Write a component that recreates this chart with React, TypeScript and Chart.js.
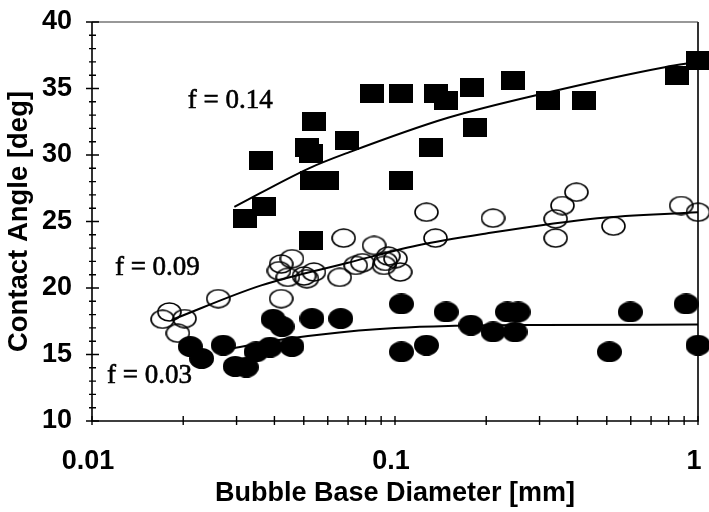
import React, { useEffect, useRef } from 'react';
import { Chart, registerables } from 'chart.js';

Chart.register(...registerables);

// f = 0.14 (filled squares)
const diamF014 = [0.032, 0.037, 0.036, 0.054, 0.0512, 0.0528, 0.0532, 0.0596, 0.0693, 0.0528, 0.0837, 0.105, 0.105, 0.1368, 0.1476, 0.1318, 0.1797, 0.184, 0.245, 0.319, 0.419, 0.853, 1.0];
const angleF014 = [25.2, 26.1, 29.6, 32.5, 30.6, 30.1, 28.1, 28.1, 31.1, 23.6, 34.6, 34.6, 28.1, 34.6, 34.1, 30.6, 35.1, 32.1, 35.6, 34.1, 34.1, 36.0, 37.1];

// f = 0.09 (open circles)
const diamF009 = [0.0171, 0.018, 0.0202, 0.0192, 0.0261, 0.0421, 0.0421, 0.0457, 0.0414, 0.0443, 0.0501, 0.054, 0.0512, 0.0657, 0.0677, 0.0742, 0.078, 0.0853, 0.093, 0.095, 0.1004, 0.104, 0.092, 0.127, 0.136, 0.2106, 0.339, 0.357, 0.397, 0.339, 0.526, 0.88, 1.0];
const angleF009 = [17.65, 18.2, 17.7, 16.6, 19.2, 19.2, 21.8, 22.2, 21.3, 20.8, 20.9, 21.2, 20.7, 20.8, 23.75, 21.7, 21.9, 23.2, 22.0, 22.4, 22.2, 21.2, 21.7, 25.7, 23.75, 25.25, 25.2, 26.2, 27.2, 23.75, 24.65, 26.2, 25.7];

// f = 0.03 (filled circles)
const diamF003 = [0.0211, 0.023, 0.0271, 0.0297, 0.0323, 0.0348, 0.0387, 0.0457, 0.0396, 0.0424, 0.0532, 0.0662, 0.105, 0.105, 0.127, 0.1476, 0.178, 0.2106, 0.235, 0.255, 0.249, 0.51, 0.598, 0.914, 1.0];
const angleF003 = [15.6, 14.7, 15.7, 14.1, 14.05, 15.2, 15.55, 15.6, 17.65, 17.1, 17.7, 17.7, 18.8, 15.2, 15.7, 18.2, 17.2, 16.7, 18.2, 18.2, 16.7, 15.2, 18.2, 18.8, 15.7];

// Fitted trend curves
const fitDiamF014 = [0.0295, 0.052, 0.0704, 0.1495, 0.319, 0.777, 1.0];
const fitAngleF014 = [26.1, 29.0, 30.2, 32.8, 34.7, 36.6, 37.0];
const fitDiamF009 = [0.0183, 0.0362, 0.07, 0.1183, 0.2, 0.4655, 1.0];
const fitAngleF009 = [17.6, 20.2, 21.9, 23.2, 24.1, 25.25, 25.7];
const fitDiamF003 = [0.029, 0.0447, 0.0759, 0.1, 0.15, 0.3, 1.0];
const fitAngleF003 = [15.47, 16.2, 16.8, 17.0, 17.15, 17.22, 17.25];

// Axis ticks
const xMajorTicks = [0.01, 0.1, 1];
const xMinorTicks = [0.02, 0.03, 0.04, 0.05, 0.06, 0.07, 0.08, 0.09, 0.2, 0.3, 0.4, 0.5, 0.6, 0.7, 0.8, 0.9];
const yMajorTicks = [10, 15, 20, 25, 30, 35, 40];
const yMinorTicks = [11, 12, 13, 14, 16, 17, 18, 19, 21, 22, 23, 24, 26, 27, 28, 29, 31, 32, 33, 34, 36, 37, 38, 39];

const seriesLabels = ['f = 0.14', 'f = 0.09', 'f = 0.03'];
// anchor (left, baseline) of each series label in data units
const labelAnchors = [
  { x: 0.0207, y: 33.5 },
  { x: 0.0119, y: 20.96 },
  { x: 0.0112, y: 12.84 },
];

const SANS = '"Liberation Sans", Arial, sans-serif';

const toPoints = (xs: number[], ys: number[]) => xs.map((x, i) => ({ x, y: ys[i] }));

function makeMarker(w: number, h: number, draw: (ctx: CanvasRenderingContext2D, w: number, h: number) => void) {
  const c = document.createElement('canvas');
  c.width = w;
  c.height = h;
  const ctx = c.getContext('2d') as CanvasRenderingContext2D;
  ctx.fillStyle = '#000';
  ctx.strokeStyle = '#000';
  draw(ctx, w, h);
  return c;
}

// keep the plot box exactly where the layout padding puts it
const noScalePadding = (scale: any) => {
  scale.paddingTop = 0;
  scale.paddingBottom = 0;
  scale.paddingLeft = 0;
  scale.paddingRight = 0;
};

const framePlugin = {
  id: 'frameAndTicks',
  afterDatasetsDraw(chart: any) {
    const { ctx, chartArea: a, scales } = chart;
    const xs = scales.x;
    const ys = scales.y;
    ctx.save();
    ctx.strokeStyle = '#000';
    ctx.lineWidth = 1.6;
    ctx.beginPath();
    ctx.moveTo(a.left, a.top);
    ctx.lineTo(a.left, a.bottom);
    ctx.lineTo(a.right, a.bottom);
    ctx.lineTo(a.right, a.top);
    ctx.stroke();
    ctx.strokeStyle = '#333';
    ctx.lineWidth = 1.2;
    ctx.beginPath();
    ctx.moveTo(a.left, a.top);
    ctx.lineTo(a.right, a.top);
    ctx.stroke();

    ctx.strokeStyle = '#000';
    ctx.lineWidth = 1.4;
    ctx.beginPath();
    for (const v of yMajorTicks) {
      const py = ys.getPixelForValue(v);
      ctx.moveTo(a.left - 6, py);
      ctx.lineTo(a.left + 7, py);
    }
    for (const v of yMinorTicks) {
      const py = ys.getPixelForValue(v);
      ctx.moveTo(a.left - 3, py);
      ctx.lineTo(a.left + 4, py);
    }
    for (const v of [...xMajorTicks, ...xMinorTicks]) {
      const px = xs.getPixelForValue(v);
      ctx.moveTo(px, a.bottom - 5);
      ctx.lineTo(px, a.bottom + 4);
    }
    ctx.stroke();

    ctx.fillStyle = '#000';
    ctx.strokeStyle = '#000';
    ctx.lineWidth = 0.6;
    ctx.font = '27px "Liberation Serif", "Times New Roman", serif';
    ctx.textAlign = 'left';
    ctx.textBaseline = 'alphabetic';
    seriesLabels.forEach((text, i) => {
      const p = labelAnchors[i];
      const px = xs.getPixelForValue(p.x);
      const py = ys.getPixelForValue(p.y);
      ctx.fillText(text, px, py);
      ctx.strokeText(text, px, py);
    });
    ctx.restore();
  },
};

export default function App() {
  const ref = useRef<HTMLCanvasElement | null>(null);

  useEffect(() => {
    const canvas = ref.current;
    if (!canvas) return;

    const square = makeMarker(24, 19, (ctx, w, h) => ctx.fillRect(0, 0, w, h));
    const disc = makeMarker(25, 21, (ctx, w, h) => {
      ctx.beginPath();
      ctx.ellipse(w / 2, h / 2, w / 2, h / 2, 0, 0, Math.PI * 2);
      ctx.fill();
    });
    const ring = makeMarker(25, 20, (ctx, w, h) => {
      ctx.lineWidth = 1.6;
      ctx.beginPath();
      ctx.ellipse(w / 2, h / 2, w / 2 - 1, h / 2 - 1, 0, 0, Math.PI * 2);
      ctx.stroke();
    });

    const fitStyle = {
      showLine: true,
      borderColor: '#000',
      borderWidth: 2,
      pointRadius: 0,
      cubicInterpolationMode: 'monotone' as const,
      fill: false,
      clip: false as const,
    };

    const chart = new Chart(canvas, {
      type: 'scatter',
      data: {
        datasets: [
          { label: 'f = 0.14 fit', data: toPoints(fitDiamF014, fitAngleF014), ...fitStyle },
          { label: 'f = 0.09 fit', data: toPoints(fitDiamF009, fitAngleF009), ...fitStyle },
          { label: 'f = 0.03 fit', data: toPoints(fitDiamF003, fitAngleF003), ...fitStyle },
          { label: 'f = 0.14', data: toPoints(diamF014, angleF014), pointStyle: square as any, pointRadius: 10, clip: false as const },
          { label: 'f = 0.09', data: toPoints(diamF009, angleF009), pointStyle: ring as any, pointRadius: 10, clip: false as const },
          { label: 'f = 0.03', data: toPoints(diamF003, angleF003), pointStyle: disc as any, pointRadius: 10, clip: false as const },
        ],
      },
      options: {
        responsive: false,
        animation: false,
        events: [],
        layout: { padding: { left: 0, top: 22, right: 8, bottom: 0 } },
        plugins: { legend: { display: false }, tooltip: { enabled: false } },
        scales: {
          x: {
            type: 'logarithmic',
            min: 0.01,
            max: 1,
            grid: { display: false, drawTicks: false },
            border: { display: false },
            afterBuildTicks: (scale: any) => {
              scale.ticks = xMajorTicks.map((value) => ({ value }));
            },
            afterFit: (scale: any) => {
              scale.height = 91;
              noScalePadding(scale);
            },
            ticks: {
              autoSkip: false,
              maxRotation: 0,
              padding: 24,
              labelOffset: -4,
              color: '#000',
              font: { family: SANS, size: 27, weight: 'bold' },
              callback: (v: any) => String(v),
            },
            title: {
              display: true,
              text: 'Bubble Base Diameter [mm]',
              color: '#000',
              font: { family: SANS, size: 27, weight: 'bold' },
              padding: { top: 0, bottom: 2 },
            },
          },
          y: {
            min: 10,
            max: 40,
            grid: { display: false, drawTicks: false },
            border: { display: false },
            afterBuildTicks: (scale: any) => {
              scale.ticks = yMajorTicks.map((value) => ({ value }));
            },
            afterFit: (scale: any) => {
              scale.width = 92;
              noScalePadding(scale);
            },
            ticks: {
              padding: 20,
              color: '#000',
              font: { family: SANS, size: 27, weight: 'bold' },
            },
            title: {
              display: true,
              text: 'Contact Angle [deg]',
              color: '#000',
              font: { family: SANS, size: 27.5, weight: 'bold' },
              padding: { top: 3, bottom: 0 },
            },
          },
        },
      },
      plugins: [framePlugin],
    });

    return () => chart.destroy();
  }, []);

  return (
    <div style={{ position: 'fixed', left: 0, top: 0, width: 709, height: 512, background: '#fff' }}>
      <canvas ref={ref} width={709} height={512} style={{ display: 'block' }} />
    </div>
  );
}
